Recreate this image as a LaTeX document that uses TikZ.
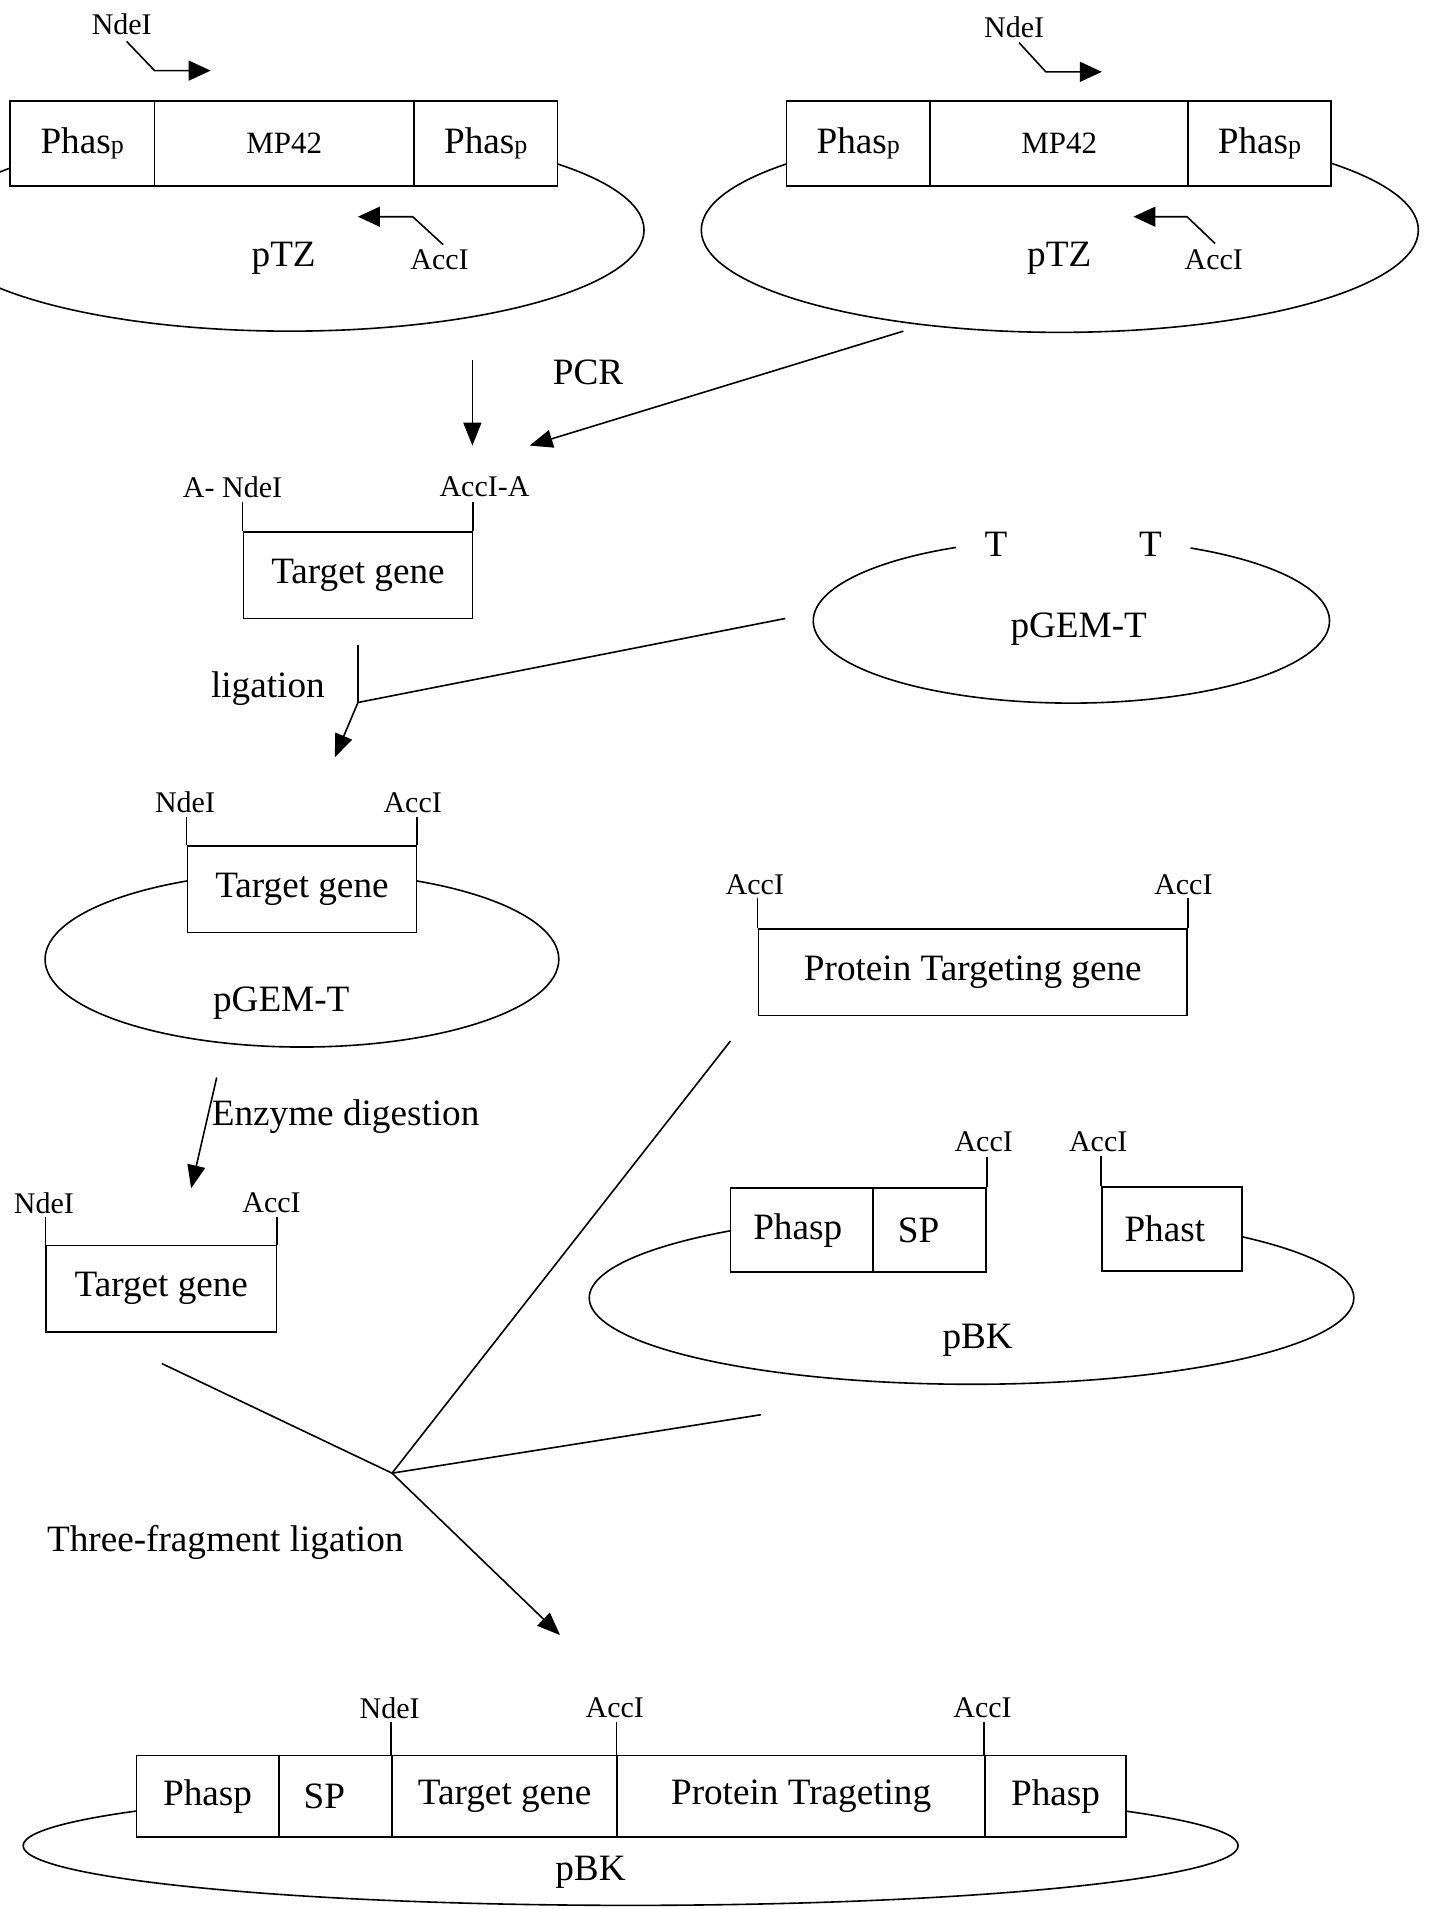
\documentclass[tikz,border=0pt]{standalone}
\usepackage{fontspec}
\setmainfont{Liberation Serif}
\usetikzlibrary{arrows.meta,shapes.geometric}
\newcommand\txtbig{\fontsize{18.6}{22}\selectfont}
\newcommand\txtsmall{\fontsize{15}{18}\selectfont}
\newcommand\smp{{\fontsize{13}{13}\selectfont p}}
\begin{document}
\begin{tikzpicture}[x=0.6087pt, y=-0.6087pt,
  every node/.style={inner sep=1pt},
  cell/.style 2 args={draw, fill=white, inner sep=0pt, line width=0.8pt, font=\txtbig,
    minimum width=#1*0.6087pt, minimum height=#2*0.6087pt},
  plasmid/.style 2 args={ellipse, draw, inner sep=0pt, line width=0.8pt,
    minimum width=#1*0.6087pt, minimum height=#2*0.6087pt},
  site/.style={font=\txtsmall},
  lbl/.style={font=\txtbig},
  tick/.style={line width=0.8pt},
  link/.style={line width=0.8pt},
  flow/.style={line width=0.8pt, -{Triangle[length=11.5pt,width=9pt]}},
  primer/.style={line width=0.8pt, -{Triangle[length=11pt,width=10pt]}}]

\useasboundingbox (0,0) rectangle (1173,1568);

% ---------- pTZ (left) ----------
\node[plasmid={582}{166}] (ptzA) at (238,189) {};
\node[cell={119}{70}] (ptzA1) at (67.5,118) {Phas\smp};
\node[cell={213}{70}, font=\fontsize{15.5}{18}\selectfont] (ptzA2) at (233.5,118) {MP42};
\node[cell={118}{70}] (ptzA3) at (399,118) {Phas\smp};
\node[lbl] (ptzAl) at (233,212) {pTZ};
\node[site] (ndeA) at (100,20) {NdeI};
\coordinate (ndeAs) at (104,34);
\coordinate (ndeAc) at (127,58);
\coordinate (ndeAt) at (173,58);
\draw[primer] (ndeAs) -- (ndeAc) -- (ndeAt);
\node[site] (accA) at (361,213) {AccI};
\coordinate (accAs) at (364,201);
\coordinate (accAc) at (339,178);
\coordinate (accAt) at (294,178);
\draw[primer] (accAs) -- (accAc) -- (accAt);

% ---------- pTZ (right) ----------
\node[plasmid={589}{168}] (ptzB) at (870.5,189) {};
\node[cell={118}{70}] (ptzB1) at (705,118) {Phas\smp};
\node[cell={212}{70}, font=\fontsize{15.5}{18}\selectfont] (ptzB2) at (870,118) {MP42};
\node[cell={117}{70}] (ptzB3) at (1034.5,118) {Phas\smp};
\node[lbl] (ptzBl) at (870,212) {pTZ};
\node[site] (ndeB) at (833,22) {NdeI};
\coordinate (ndeBs) at (837,35);
\coordinate (ndeBc) at (859,59);
\coordinate (ndeBt) at (905,59);
\draw[primer] (ndeBs) -- (ndeBc) -- (ndeBt);
\node[site] (accB) at (997,213) {AccI};
\coordinate (accBs) at (998,200);
\coordinate (accBc) at (975,178);
\coordinate (accBt) at (931,178);
\draw[primer] (accBs) -- (accBc) -- (accBt);

% ---------- PCR ----------
\coordinate (pcrA) at (388,296);
\coordinate (pcrAt) at (388,366);
\coordinate (pcrB) at (742,272);
\coordinate (pcrBt) at (435,366);
\draw[flow] (pcrA) -- (pcrAt);
\draw[flow] (pcrB) -- (pcrBt);
\node[lbl] (pcr) at (483,306) {PCR};

% ---------- PCR product ----------
\node[cell={188}{71}] (tg1) at (294,472.5) {Target gene};
\node[site] (tg1l) at (191,400) {A- NdeI};
\node[site] (tg1r) at (398,400) {AccI-A};
\draw[tick] (tg1.north west) -- ++(0,-24);
\draw[tick] (tg1.north east) -- ++(0,-24);

% ---------- pGEM-T vector (open at the T overhangs) ----------
\node[ellipse, inner sep=0pt, minimum width=424*0.6087pt, minimum height=135*0.6087pt] (pgem) at (880,510) {};
\draw[link] (pgem.center) ++(297.5:212 and 67.5)
  arc[start angle=297.5, end angle=603.4, x radius=212, y radius=67.5];
\node[lbl] (tA) at (818,447) {T};
\node[lbl] (tB) at (945,447) {T};
\node[lbl] (pgeml) at (886,517) {pGEM-T};

% ---------- ligation ----------
\coordinate (ligA) at (294,530);
\coordinate (ligB) at (645,508);
\coordinate (ligJ) at (294,577);
\coordinate (ligT) at (275,622);
\draw[link] (ligA) -- (ligJ);
\draw[link] (ligB) -- (ligJ);
\draw[flow] (ligJ) -- (ligT);
\node[lbl] (lig) at (220,566) {ligation};

% ---------- pGEM-T with insert ----------
\node[plasmid={422}{144}] (pgemI) at (248,788) {};
\node[cell={188}{71}] (tg2) at (248,730.5) {Target gene};
\node[site] (tg2l) at (152,659) {NdeI};
\node[site] (tg2r) at (339,659) {AccI};
\draw[tick] (tg2.north west) -- ++(0,-23);
\draw[tick] (tg2.north east) -- ++(0,-23);
\node[lbl] (pgemIl) at (231,824) {pGEM-T};

% ---------- enzyme digestion ----------
\coordinate (digS) at (178,885);
\coordinate (digT) at (157,976);
\draw[flow] (digS) -- (digT);
\node[lbl, anchor=west] (dig) at (172,917) {Enzyme digestion};

% ---------- released insert ----------
\node[cell={189}{71}] (tg3) at (132.5,1058.5) {Target gene};
\node[site] (tg3l) at (36,988) {NdeI};
\node[site] (tg3r) at (223,988) {AccI};
\draw[tick] (tg3.north west) -- ++(0,-23);
\draw[tick] (tg3.north east) -- ++(0,-23);

% ---------- protein targeting fragment ----------
\node[cell={352}{71}] (ptg) at (799,798.5) {Protein Targeting gene};
\node[site] (ptgl) at (620,727) {AccI};
\node[site] (ptgr) at (972,727) {AccI};
\draw[tick] (ptg.north west) -- ++(0,-25);
\draw[tick] (ptg.north east) -- ++(0,-25);

% ---------- pBK vector (opened between SP and Phast) ----------
\node[ellipse, inner sep=0pt, minimum width=628*0.6087pt, minimum height=142*0.6087pt] (pbk) at (798,1066) {};
\draw[link] (pbk.center) ++(315:314 and 71)
  arc[start angle=315, end angle=590.9, x radius=314, y radius=71];
\node[cell={117}{69}] (pbk1) at (658.5,1010.5) {Phasp\hspace*{4pt}};
\node[cell={93}{69}] (pbk2) at (763.5,1010.5) {SP\hspace*{11pt}};
\node[cell={115}{69}] (pbk3) at (962.5,1009.5) {Phast\hspace*{7pt}};
\node[site] (pbkl) at (808,938) {AccI};
\node[site] (pbkr) at (902,938) {AccI};
\draw[tick] (pbk2.north east) -- ++(0,-25);
\draw[tick] (pbk3.north west) -- ++(0,-25);
\node[lbl] (pbkt) at (803,1101) {pBK};

% ---------- three-fragment ligation ----------
\coordinate (tfJ) at (322,1210);
\coordinate (tfA) at (133,1120);
\coordinate (tfB) at (600,855);
\coordinate (tfC) at (625,1162);
\coordinate (tfT) at (460,1343);
\draw[link] (tfA) -- (tfJ);
\draw[link] (tfB) -- (tfJ);
\draw[link] (tfC) -- (tfJ);
\draw[flow] (tfJ) -- (tfT);
\node[lbl] (tf) at (185,1267) {Three-fragment ligation};

% ---------- final construct ----------
\node[plasmid={998}{98}] (fin) at (518,1516) {};
\node[cell={117}{67}] (fin1) at (170.5,1475.5) {Phasp};
\node[cell={93}{67}] (fin2) at (275.5,1475.5) {SP\hspace*{11pt}};
\node[cell={185}{67}] (fin3) at (414.5,1475.5) {Target gene};
\node[cell={302}{67}] (fin4) at (658,1475.5) {Protein Trageting};
\node[cell={116}{67}] (fin5) at (867,1475.5) {Phasp};
\node[site] (finA) at (320,1403) {NdeI};
\node[site] (finB) at (505,1403) {AccI};
\node[site] (finC) at (807,1403) {AccI};
\draw[tick] (fin3.north west) -- ++(0,-27);
\draw[tick] (fin4.north west) -- ++(0,-27);
\draw[tick] (fin5.north west) -- ++(0,-27);
\node[lbl] (fint) at (485,1538) {pBK};
\end{tikzpicture}
\end{document}
